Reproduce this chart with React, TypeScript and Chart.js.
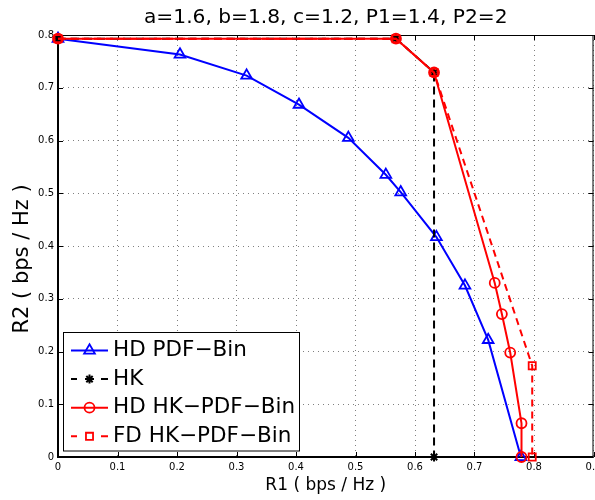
import React, { useEffect, useRef } from 'react';
import { Chart, registerables } from 'chart.js';
import { drawPoint } from 'chart.js/helpers';

Chart.register(...registerables);

// ---------- data ----------
const chartTitle = 'a=1.6, b=1.8, c=1.2, P1=1.4, P2=2';
const xAxisLabel = 'R1 ( bps / Hz )';
const yAxisLabel = 'R2 ( bps / Hz )';
const xTickLabels = ['0', '0.1', '0.2', '0.3', '0.4', '0.5', '0.6', '0.7', '0.8', '0.9'];
const yTickLabels = ['0', '0.1', '0.2', '0.3', '0.4', '0.5', '0.6', '0.7', '0.8'];
const seriesNames = ['HD PDF−Bin', 'HK', 'HD HK−PDF−Bin', 'FD HK−PDF−Bin'];

const hdPdfBinR1 = [0, 0.205, 0.317, 0.405, 0.488, 0.551, 0.576, 0.636, 0.684, 0.723, 0.778];
const hdPdfBinR2 = [0.793, 0.763, 0.723, 0.668, 0.605, 0.535, 0.502, 0.417, 0.325, 0.222, 0];

const hkR1 = [0, 0.568, 0.632, 0.632];
const hkR2 = [0.793, 0.793, 0.729, 0];

const hdHkPdfBinR1 = [0, 0.568, 0.632, 0.734, 0.746, 0.76, 0.779, 0.779];
const hdHkPdfBinR2 = [0.793, 0.793, 0.729, 0.33, 0.271, 0.198, 0.064, 0];

const fdHkPdfBinR1 = [0, 0.568, 0.632, 0.797, 0.797];
const fdHkPdfBinR2 = [0.793, 0.793, 0.729, 0.173, 0];

const FONT = "'DejaVu Sans', sans-serif";
const CANVAS_W = 620;
const CANVAS_H = 500;

const toPoints = (xs: number[], ys: number[]) => xs.map((x, i) => ({ x, y: ys[i] }));

type Style = {
  color: string;
  dash: number[];
  pointStyle: string;
  radius: number;
  pointBorderWidth: number;
};

const styles: Style[] = [
  { color: '#0000ff', dash: [], pointStyle: 'triangle', radius: 6.2, pointBorderWidth: 1.8 },
  { color: '#000000', dash: [8, 5], pointStyle: 'star', radius: 4.5, pointBorderWidth: 2 },
  { color: '#ff0000', dash: [], pointStyle: 'circle', radius: 5, pointBorderWidth: 1.8 },
  { color: '#ff0000', dash: [7, 5], pointStyle: 'rect', radius: 5, pointBorderWidth: 1.8 },
];

const decorPlugin = {
  id: 'decor',
  beforeDatasetsDraw(chart: any) {
    const { ctx, chartArea: a, scales } = chart;
    const xs = scales.x;
    const ys = scales.y;
    ctx.save();
    ctx.strokeStyle = '#000';
    ctx.setLineDash([]);
    // frame
    ctx.lineWidth = 1;
    ctx.beginPath();
    ctx.moveTo(a.left, a.top + 0.5);
    ctx.lineTo(a.right, a.top + 0.5);
    ctx.moveTo(a.right - 0.5, a.top);
    ctx.lineTo(a.right - 0.5, a.bottom);
    ctx.stroke();
    ctx.lineWidth = 2;
    ctx.beginPath();
    ctx.moveTo(a.left - 1, a.bottom);
    ctx.lineTo(a.right, a.bottom);
    ctx.moveTo(a.left, a.top);
    ctx.lineTo(a.left, a.bottom + 1);
    ctx.stroke();
    // inward ticks
    const tl = 5;
    ctx.lineWidth = 1;
    ctx.beginPath();
    xs.ticks.forEach((t: any) => {
      const px = Math.round(xs.getPixelForValue(t.value)) + 0.5;
      ctx.moveTo(px, a.bottom);
      ctx.lineTo(px, a.bottom - tl);
      ctx.moveTo(px, a.top);
      ctx.lineTo(px, a.top + tl);
    });
    ys.ticks.forEach((t: any) => {
      const py = Math.round(ys.getPixelForValue(t.value)) + 0.5;
      ctx.moveTo(a.left, py);
      ctx.lineTo(a.left + tl, py);
      ctx.moveTo(a.right, py);
      ctx.lineTo(a.right - tl, py);
    });
    ctx.stroke();
    ctx.restore();
  },
  afterDatasetsDraw(chart: any) {
    const { ctx } = chart;
    ctx.save();
    // legend box
    const bx = 63.5, by = 332.5, bw = 236, bh = 118.5;
    ctx.fillStyle = '#fff';
    ctx.fillRect(bx, by, bw, bh);
    ctx.strokeStyle = '#000';
    ctx.lineWidth = 1;
    ctx.setLineDash([]);
    ctx.strokeRect(bx, by, bw, bh);
    const y0 = 350.5, dy = 28.6;
    seriesNames.forEach((name, i) => {
      const s = styles[i];
      const y = y0 + i * dy;
      ctx.strokeStyle = s.color;
      ctx.lineWidth = 2;
      ctx.setLineDash([]);
      ctx.beginPath();
      if (s.dash.length) {
        ctx.moveTo(71, y);
        ctx.lineTo(77, y);
        ctx.moveTo(101, y);
        ctx.lineTo(108, y);
      } else {
        ctx.moveTo(71, y);
        ctx.lineTo(108, y);
      }
      ctx.stroke();
      ctx.fillStyle = 'rgba(0,0,0,0)';
      ctx.lineWidth = s.pointBorderWidth;
      drawPoint(ctx, { pointStyle: s.pointStyle, radius: s.radius, rotation: 0, borderWidth: s.pointBorderWidth } as any, 89.5, y);
      ctx.fillStyle = '#000';
      ctx.font = `21.5px ${FONT}`;
      ctx.textAlign = 'left';
      ctx.textBaseline = 'middle';
      ctx.fillText(name, 113, y);
    });
    ctx.restore();
  },
  afterDraw(chart: any) {
    const { ctx, chartArea: a } = chart;
    ctx.save();
    ctx.fillStyle = '#000';
    ctx.font = `20.2px ${FONT}`;
    ctx.textAlign = 'center';
    ctx.textBaseline = 'alphabetic';
    ctx.fillText(chartTitle, (a.left + a.right) / 2, 23.3);
    // y axis label
    ctx.translate(23, 259);
    ctx.rotate(-Math.PI / 2);
    ctx.font = `21px ${FONT}`;
    ctx.textBaseline = 'middle';
    ctx.fillText(yAxisLabel, 0, 0);
    ctx.restore();
  },
};

export default function App() {
  const canvasRef = useRef<HTMLCanvasElement | null>(null);

  useEffect(() => {
    const canvas = canvasRef.current;
    if (!canvas) return;
    const seriesData = [
      toPoints(hdPdfBinR1, hdPdfBinR2),
      toPoints(hkR1, hkR2),
      toPoints(hdHkPdfBinR1, hdHkPdfBinR2),
      toPoints(fdHkPdfBinR1, fdHkPdfBinR2),
    ];
    const datasets = seriesData.map((data, i) => {
      const s = styles[i];
      return {
        label: seriesNames[i],
        data,
        showLine: true,
        borderColor: s.color,
        borderWidth: 2,
        borderDash: s.dash,
        backgroundColor: 'rgba(0,0,0,0)',
        pointStyle: s.pointStyle,
        pointRadius: s.radius,
        pointBorderWidth: s.pointBorderWidth,
        pointBorderColor: s.color,
        pointBackgroundColor: 'rgba(0,0,0,0)',
        tension: 0,
        fill: false,
        clip: false,
        order: 3 - i,
      };
    });

    const chart = new Chart(canvas, {
      type: 'scatter',
      data: { datasets } as any,
      options: {
        animation: false,
        responsive: false,
        devicePixelRatio: 1,
        layout: { padding: { top: 35, right: CANVAS_W - 593.5, left: 0, bottom: 0 } },
        plugins: {
          legend: { display: false },
          title: { display: false },
          tooltip: { enabled: false },
        },
        scales: {
          x: {
            type: 'linear',
            min: 0,
            max: 0.9,
            ticks: {
              stepSize: 0.1,
              autoSkip: false,
              maxRotation: 0,
              padding: 4,
              color: '#000',
              font: { family: FONT, size: 10 },
              callback: (v: any) => xTickLabels[Math.round(Number(v) * 10)] ?? '',
            },
            grid: { color: '#808080', lineWidth: 1, drawTicks: false, borderDash: [1, 4] } as any,
            border: { display: false, dash: [1, 4] },
            title: {
              display: true,
              text: xAxisLabel,
              color: '#000',
              font: { family: FONT, size: 17 },
              padding: { top: 0, bottom: 4 },
            },
            afterFit: (scale: any) => {
              scale.height = 43;
              scale.paddingLeft = 0;
              scale.paddingRight = 0;
            },
          },
          y: {
            type: 'linear',
            min: 0,
            max: 0.8,
            ticks: {
              stepSize: 0.1,
              autoSkip: false,
              padding: 4,
              color: '#000',
              font: { family: FONT, size: 10 },
              callback: (v: any) => yTickLabels[Math.round(Number(v) * 10)] ?? '',
            },
            grid: { color: '#808080', lineWidth: 1, drawTicks: false, borderDash: [1, 4] } as any,
            border: { display: false, dash: [1, 4] },
            title: { display: false, text: yAxisLabel },
            afterFit: (scale: any) => {
              scale.width = 58;
              scale.paddingTop = 0;
              scale.paddingBottom = 0;
            },
          },
        },
      } as any,
      plugins: [decorPlugin],
    });
    return () => chart.destroy();
  }, []);

  return (
    <div style={{ position: 'fixed', left: 0, top: 0, width: 595, height: 500, overflow: 'hidden', background: '#fff' }}>
      <canvas
        ref={canvasRef}
        width={CANVAS_W}
        height={CANVAS_H}
        style={{ display: 'block', width: CANVAS_W, height: CANVAS_H }}
      />
    </div>
  );
}
